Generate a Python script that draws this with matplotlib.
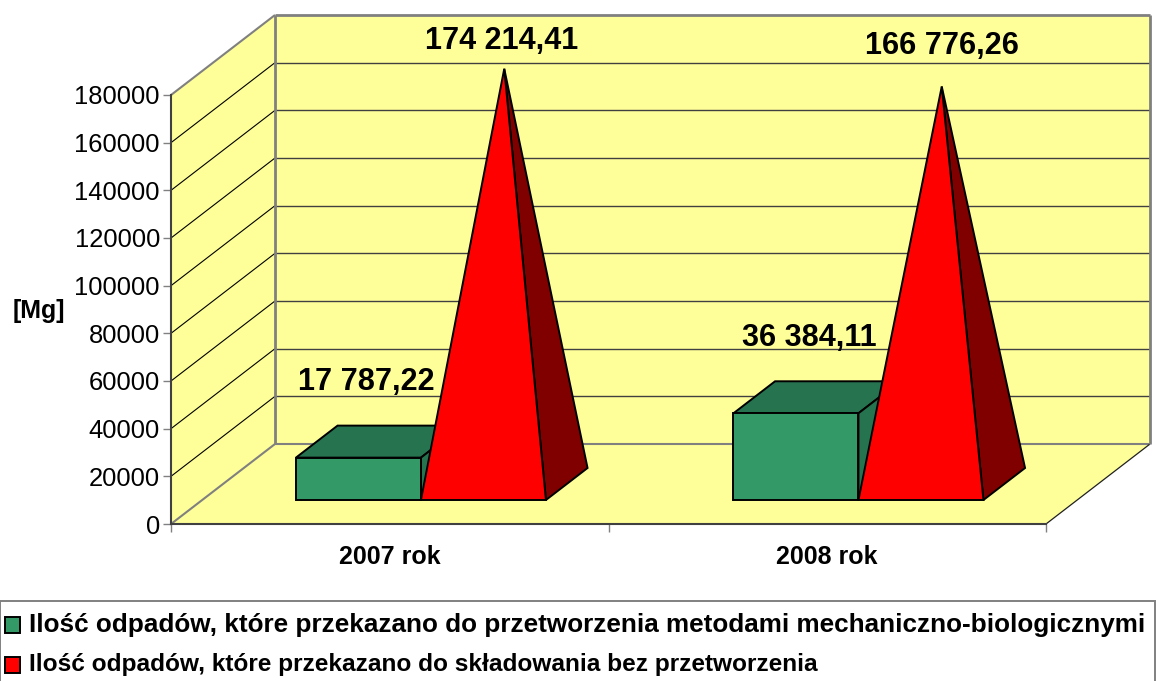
import matplotlib
matplotlib.use('Agg')
import matplotlib.pyplot as plt
from matplotlib.patches import Polygon, Rectangle

plt.rcParams['font.family'] = ['Liberation Sans', 'DejaVu Sans']

# dane
categories = ['2007 rok', '2008 rok']
mbp_values = [17787.22, 36384.11]
landfill_values = [174214.41, 166776.26]
mbp_labels = ['17 787,22', '36 384,11']
landfill_labels = ['174 214,41', '166 776,26']
y_ticks = [0, 20000, 40000, 60000, 80000, 100000, 120000, 140000, 160000, 180000]
legend_labels = ['Ilość odpadów, które przekazano do przetworzenia metodami mechaniczno-biologicznymi',
                 'Ilość odpadów, które przekazano do składowania bez przetworzenia']
legend_colors = ['#339966', '#FF0000']

W, H = 1156, 681
Y_MAX = 180000
# przesuniecie "glebokosci" wykresu 3D (jednostki osi)
DEPTH_X = 104 / 437.5
DEPTH_Y = 80 / 429 * Y_MAX
BAR_W = 1 / 3.5
D_FRONT, D_BACK = 0.3, 0.7

WALL = '#FFFF99'
GREY = '#808080'


def pt(x, v, d=0.0):
    return (x + d * DEPTH_X, v + d * DEPTH_Y)


fig = plt.figure(figsize=(W / 100, H / 100), dpi=100, facecolor='white')
ax = fig.add_axes([171 / W, (H - 524) / H, 875 / W, 429 / H])
ax.set_xlim(0, 2)
ax.set_ylim(0, Y_MAX)
ax.patch.set_visible(False)


def poly(points, color, edge='none', lw=0, z=1):
    ax.add_patch(Polygon(points, closed=True, facecolor=color, edgecolor=edge,
                         linewidth=lw, clip_on=False, zorder=z, joinstyle='miter'))


def line(a, b, color, lw, z=1.5):
    ax.plot([a[0], b[0]], [a[1], b[1]], color=color, lw=lw, clip_on=False, zorder=z,
            solid_capstyle='butt')


# sciany i podloga
poly([pt(0, 0, 1), pt(2, 0, 1), pt(2, Y_MAX, 1), pt(0, Y_MAX, 1)], WALL)
poly([pt(0, 0), pt(0, 0, 1), pt(0, Y_MAX, 1), pt(0, Y_MAX)], WALL)
poly([pt(0, 0), pt(2, 0), pt(2, 0, 1), pt(0, 0, 1)], WALL)

for t in y_ticks[1:-1]:
    line(pt(0, t), pt(0, t, 1), 'black', 0.8)
    line(pt(0, t, 1), pt(2, t, 1), '#404040', 1.0)

line(pt(0, 0), pt(0, 0, 1), GREY, 1.5, 1.6)
line(pt(0, 0, 1), pt(2, 0, 1), GREY, 1.5, 1.6)
line(pt(2, 0), pt(2, 0, 1), '#202020', 0.9, 1.6)
line(pt(0, 0, 1), pt(0, Y_MAX, 1), GREY, 2.0, 1.6)
line(pt(2, 0, 1), pt(2, Y_MAX, 1), GREY, 2.0, 1.6)
line(pt(0, Y_MAX, 1), pt(2, Y_MAX, 1), GREY, 2.0, 1.6)
line(pt(0, Y_MAX), pt(0, Y_MAX, 1), GREY, 1.5, 1.6)

# slupki i ostroslupy
for i in range(len(categories)):
    x0 = i + 0.5 - BAR_W
    x1 = i + 0.5
    x2 = i + 0.5 + BAR_W
    v = mbp_values[i]
    poly([pt(x0, v, D_FRONT), pt(x1, v, D_FRONT), pt(x1, v, D_BACK), pt(x0, v, D_BACK)],
         '#267350', 'black', 1.4, 3)
    poly([pt(x1, 0, D_FRONT), pt(x1, 0, D_BACK), pt(x1, v, D_BACK), pt(x1, v, D_FRONT)],
         '#267350', 'black', 1.4, 3)
    poly([pt(x0, 0, D_FRONT), pt(x1, 0, D_FRONT), pt(x1, v, D_FRONT), pt(x0, v, D_FRONT)],
         '#339966', 'black', 1.4, 3.1)

    r = landfill_values[i]
    apex = pt((x1 + x2) / 2, r, (D_FRONT + D_BACK) / 2)
    poly([pt(x2, 0, D_FRONT), pt(x2, 0, D_BACK), apex], '#800000', 'black', 1.4, 4)
    poly([pt(x1, 0, D_FRONT), pt(x2, 0, D_FRONT), apex], '#FF0000', 'black', 1.4, 4.1)

    ax.annotate(mbp_labels[i], pt((x0 + x1) / 2, v, 0.5), xytext=[(-9, 42.6), (-5, 42.6)][i],
                textcoords='offset points', ha='center', va='center',
                fontsize=22.1, fontweight='bold', zorder=6, annotation_clip=False)
    ax.annotate(landfill_labels[i], apex, xytext=[(-2, 20), (0, 29.5)][i],
                textcoords='offset points', ha='center', va='center',
                fontsize=22.1, fontweight='bold', zorder=6, annotation_clip=False)

# osie
for s in ['top', 'right']:
    ax.spines[s].set_visible(False)
for s in ['left', 'bottom']:
    ax.spines[s].set_color('#404040')
    ax.spines[s].set_linewidth(1.5)
    ax.spines[s].set_zorder(2)

ax.set_yticks(y_ticks)
ax.set_xticks([0, 1, 2], ['', '', ''])
ax.set_xticks([0.5, 1.5], categories, minor=True)
ax.tick_params(axis='y', length=6, width=1.0, color=GREY, labelsize=18.4, pad=2)
ax.tick_params(axis='x', which='major', length=6, width=1.0, color=GREY)
ax.tick_params(axis='x', which='minor', length=0, pad=15, labelsize=18)
for lab in ax.get_xticklabels(minor=True):
    lab.set_fontweight('bold')

ax.set_ylabel('[Mg]', rotation=0, fontsize=18, fontweight='bold', ha='center', va='center')
ax.yaxis.set_label_coords(-0.151, 0.496)

# legenda
fig.add_artist(Rectangle((0, -0.02), 1155 / W, 1 - 601 / H + 0.02, transform=fig.transFigure,
                         facecolor='white', edgecolor=GREY, linewidth=1.4))
legend_rows = [625, 665]
legend_sizes = [18.8, 17.6]
for row, label, color, size in zip(legend_rows, legend_labels, legend_colors, legend_sizes):
    fig.add_artist(Rectangle((5 / W, 1 - (row + 8) / H), 15 / W, 16 / H, transform=fig.transFigure,
                             facecolor=color, edgecolor='black', linewidth=1.4))
    fig.text(29 / W, 1 - row / H, label, fontsize=size, fontweight='bold', ha='left', va='center')

fig.savefig('out.png', dpi=100)
